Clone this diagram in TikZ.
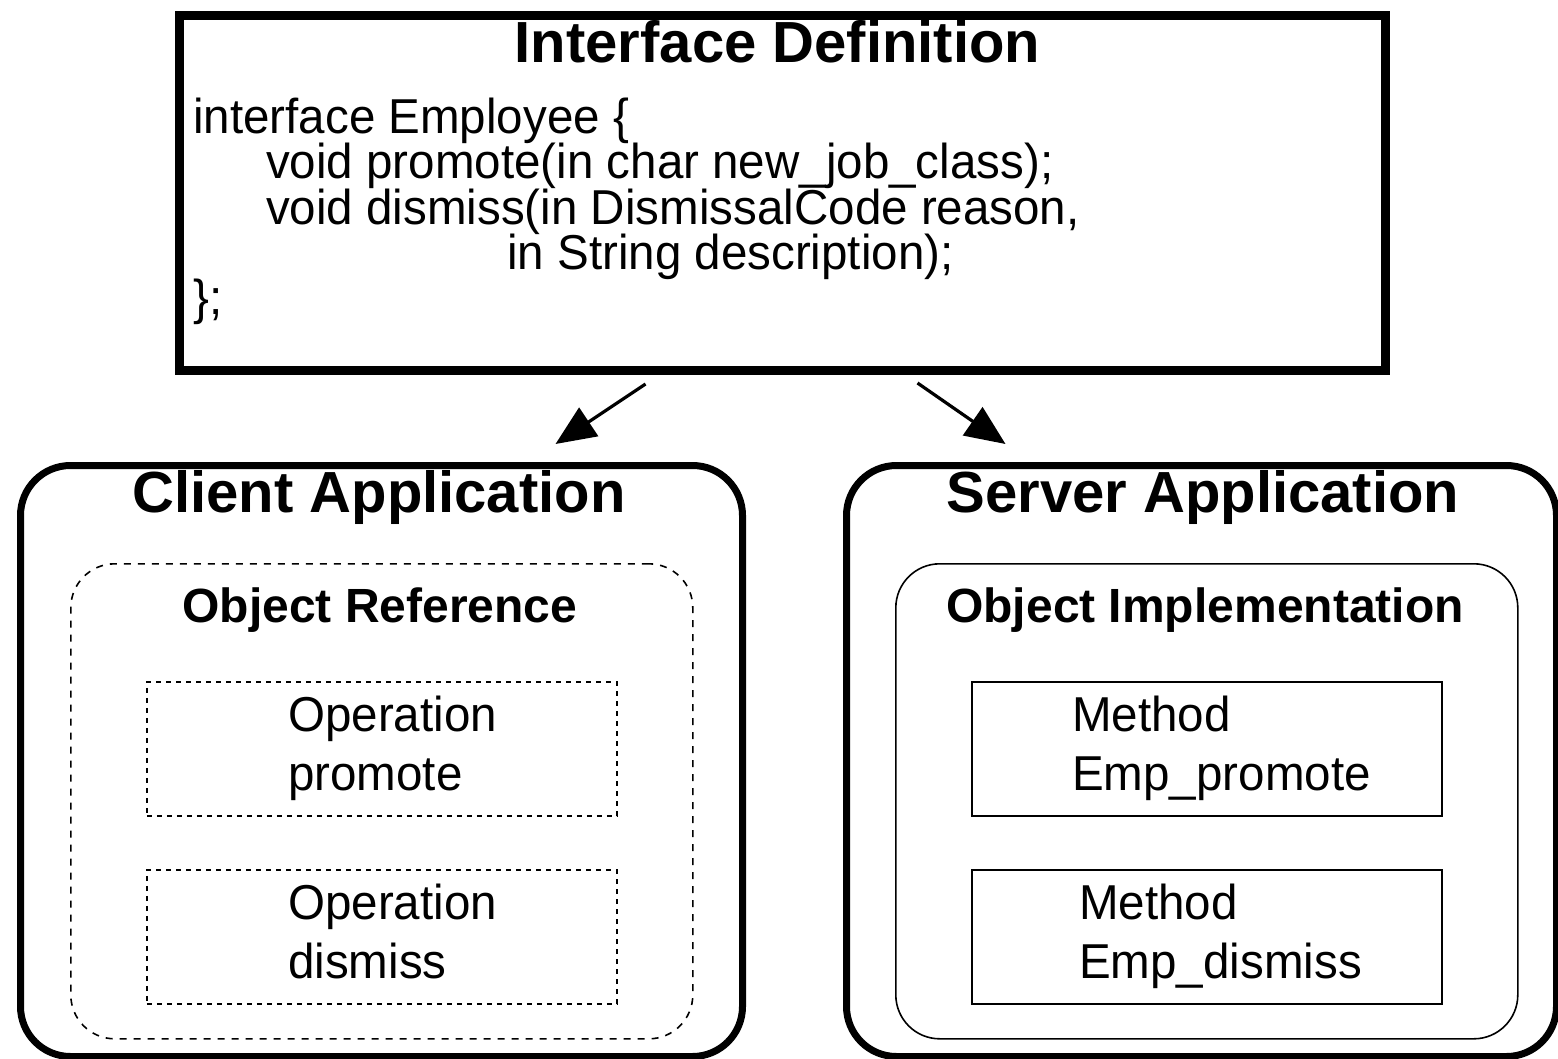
\documentclass[tikz,border=0pt]{standalone}
\usepackage{fontspec}
\setmainfont{Liberation Sans}
\newfontfamily\condfont{Liberation Sans}[FakeStretch=0.97]
\usetikzlibrary{arrows.meta,calc}

\begin{document}
\begin{tikzpicture}[x=1pt,y=-1pt,
  heavybox/.style={draw,line width=9pt,minimum width=1206pt,minimum height=355pt,inner sep=0pt},
  appbox/.style={draw,line width=7pt,rounded corners=50pt,inner sep=0pt},
  refbox/.style={draw,line width=1.6pt,rounded corners=44pt,dash pattern=on 7pt off 7pt,inner sep=0pt},
  implbox/.style={draw,line width=1.6pt,rounded corners=44pt,inner sep=0pt},
  opbox/.style={draw,line width=1.8pt,dash pattern=on 5pt off 5pt,minimum width=470pt,minimum height=134pt,inner sep=0pt},
  methbox/.style={draw,line width=1.8pt,minimum width=470pt,minimum height=134pt,inner sep=0pt},
  bigtitle/.style={font=\fontsize{58}{60}\selectfont\bfseries,inner sep=0pt},
  midtitle/.style={font=\fontsize{48}{50}\selectfont\bfseries,inner sep=0pt},
  code/.style={font=\fontsize{49}{45}\selectfont\condfont,inner sep=0pt,anchor=base west},
  arr/.style={line width=3.2pt,-{Triangle[length=40pt,width=34pt]}}
]
\useasboundingbox (0,0) rectangle (1558,1058);

% interface definition
\node[heavybox,anchor=north west] (idef) at (175,11) {};
\node[bigtitle,anchor=base] (ititle) at (777.5,62) {Interface Definition};
\node[code] (c1) at (193,133) {interface Employee \{};
\node[code] (c2) at (266,178) {void promote(in char new\_job\_class);};
\node[code] (c3) at (266,224) {void dismiss(in DismissalCode reason,};
\node[code] (c4) at (507,269) {in String description);};
\node[code] (c5) at (193,314) {\};};

% client side
\node[appbox,minimum width=722pt,minimum height=591pt,anchor=north west] (client) at (17,462) {};
\node[bigtitle,anchor=base] (ctitle) at (379,512) {Client Application};
\node[refbox,minimum width=622pt,minimum height=475pt,anchor=north west] (oref) at (70,563) {};
\node[midtitle,anchor=base] (rtitle) at (380,622) {Object Reference};
\node[opbox,anchor=north west] (op1) at (146,681) {};
\node[code] (op1a) at (288,731) {Operation};
\node[code] (op1b) at (288,790) {promote};
\node[opbox,anchor=north west] (op2) at (146,869) {};
\node[code] (op2a) at (288,919) {Operation};
\node[code] (op2b) at (288,978) {dismiss};

% server side
\node[appbox,minimum width=710pt,minimum height=591pt,anchor=north west] (server) at (843,462) {};
\node[bigtitle,anchor=base] (stitle) at (1203,512) {Server Application};
\node[implbox,minimum width=622pt,minimum height=475pt,anchor=north west] (oimpl) at (895,563) {};
\node[midtitle,anchor=base] (ititle2) at (1205,622) {Object Implementation};
\node[methbox,anchor=north west] (m1) at (971,681) {};
\node[code] (m1a) at (1072,731) {Method};
\node[code] (m1b) at (1072,790) {Emp\_promote};
\node[methbox,anchor=north west] (m2) at (971,869) {};
\node[code] (m2a) at (1079,919) {Method};
\node[code] (m2b) at (1079,978) {Emp\_dismiss};

% connectors
\draw[arr] ($(idef.south)+(-137,9)$) -- ($(client.north)+(174,-18)$);
\draw[arr] ($(idef.south)+(135,8)$) -- ($(server.north)+(-196,-18)$);
\end{tikzpicture}
\end{document}
